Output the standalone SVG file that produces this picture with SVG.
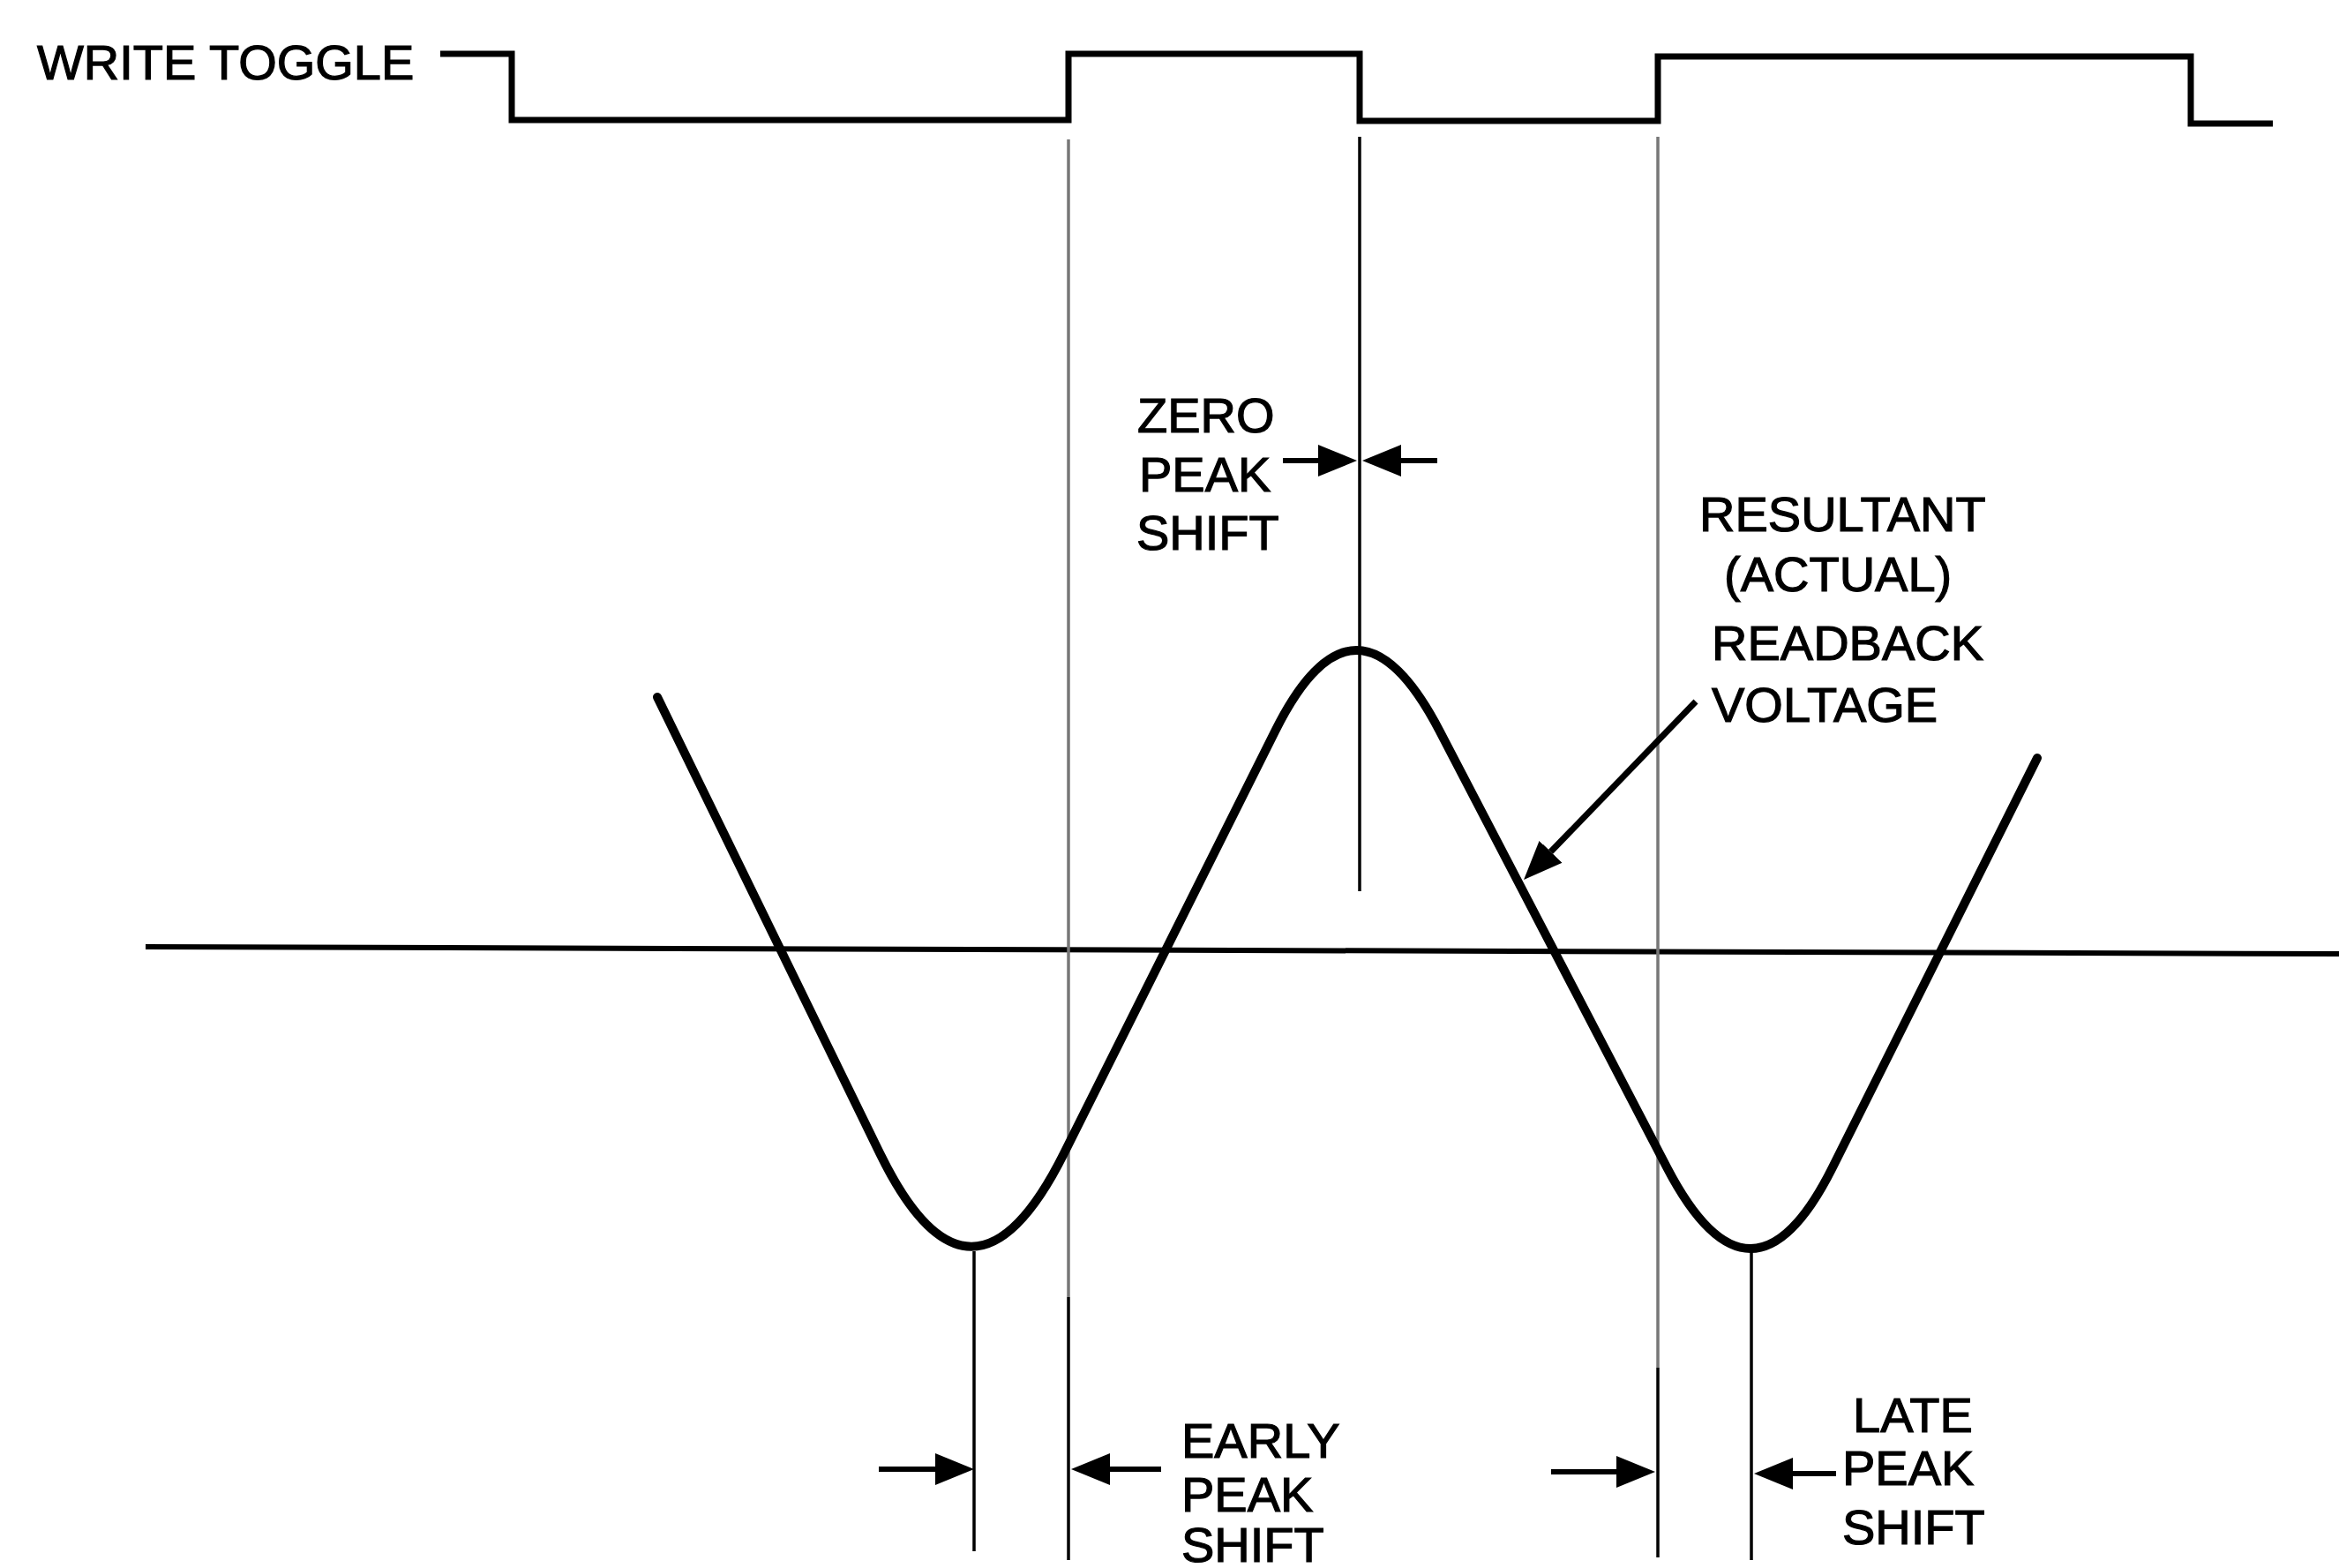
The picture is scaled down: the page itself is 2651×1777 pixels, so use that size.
<svg xmlns="http://www.w3.org/2000/svg" width="2651" height="1777" viewBox="0 0 2651 1777">
<style>
.lbl{font-family:"Liberation Sans",Arial,sans-serif;font-size:56px;fill:#000;stroke:#000;stroke-width:1.2}
.wave{fill:none;stroke:#000;stroke-width:10;stroke-linejoin:round;stroke-linecap:round}
.tog{fill:none;stroke:#000;stroke-width:7}
.ref{stroke:#000;stroke-width:3.5;fill:none}
.refg{stroke:#777;stroke-width:3.5;fill:none}
.arr{stroke:#000;stroke-width:6;fill:none;marker-end:url(#ah)}
</style>
<defs>
<marker id="ah" markerUnits="userSpaceOnUse" viewBox="0 -20 46 40" refX="0" refY="0" markerWidth="46" markerHeight="40" orient="auto">
<path d="M0,-18 L44,0 L0,18 Z" fill="#000"/>
</marker>
</defs>
<rect width="2651" height="1777" fill="#fff"/>
<g id="write-toggle">
<text class="lbl" x="42" y="90">WRITE TOGGLE</text>
<path class="tog" d="M499 61 H580 V136 H1211 V61 H1541 V137 H1879 V64 H2483 V140 H2576"/>
</g>
<g id="axis">
<line x1="165" y1="1073" x2="2651" y2="1081" stroke="#000" stroke-width="6"/>
</g>
<g id="reference-lines">
<line class="refg" x1="1211" y1="158" x2="1211" y2="1470"/>
<line class="ref" x1="1211" y1="1470" x2="1211" y2="1768"/>
<line class="ref" x1="1541" y1="155" x2="1541" y2="1010"/>
<line class="refg" x1="1879" y1="155" x2="1879" y2="1550"/>
<line class="ref" x1="1879" y1="1550" x2="1879" y2="1765"/>
<line class="ref" x1="1104" y1="1418" x2="1104" y2="1758"/>
<line class="ref" x1="1985" y1="1418" x2="1985" y2="1768"/>
</g>
<g id="readback-voltage">
<path class="wave" d="M745 790 L997.2 1307 C1066 1448 1135.5 1448 1206 1307 L1445.5 828 C1506.2 706.6 1568.1 706.6 1631.4 828 L1889.2 1323 C1953.1 1445.7 2015.6 1445.7 2077 1323 L2309 859"/>
</g>
<g id="zero-peak-shift">
<text class="lbl" x="1289" y="490">ZERO</text>
<text class="lbl" x="1291" y="557">PEAK</text>
<text class="lbl" x="1288" y="623">SHIFT</text>
</g>
<g id="resultant-label">
<text class="lbl" x="1926" y="602">RESULTANT</text>
<text class="lbl" x="1954" y="670">(ACTUAL)</text>
<text class="lbl" x="1940" y="748">READBACK</text>
<text class="lbl" x="1940" y="818">VOLTAGE</text>
</g>
<g id="early-peak-shift">
<text class="lbl" x="1339" y="1652">EARLY</text>
<text class="lbl" x="1339" y="1713">PEAK</text>
<text class="lbl" x="1339" y="1770">SHIFT</text>
</g>
<g id="late-peak-shift">
<text class="lbl" x="2100" y="1623">LATE</text>
<text class="lbl" x="2088" y="1683">PEAK</text>
<text class="lbl" x="2088" y="1750">SHIFT</text>
</g>
<g id="connectors">
<line class="arr" x1="1454" y1="522" x2="1494" y2="522"/>
<line class="arr" x1="1629" y1="522" x2="1588" y2="522"/>
<line class="arr" x1="1922" y1="795" x2="1757.6" y2="965.3" style="stroke-width:7"/>
<line class="arr" x1="996" y1="1665" x2="1060" y2="1665"/>
<line class="arr" x1="1316" y1="1665" x2="1258" y2="1665"/>
<line class="arr" x1="1758" y1="1668" x2="1832" y2="1668"/>
<line class="arr" x1="2081" y1="1670" x2="2032" y2="1670"/>
</g>
</svg>
